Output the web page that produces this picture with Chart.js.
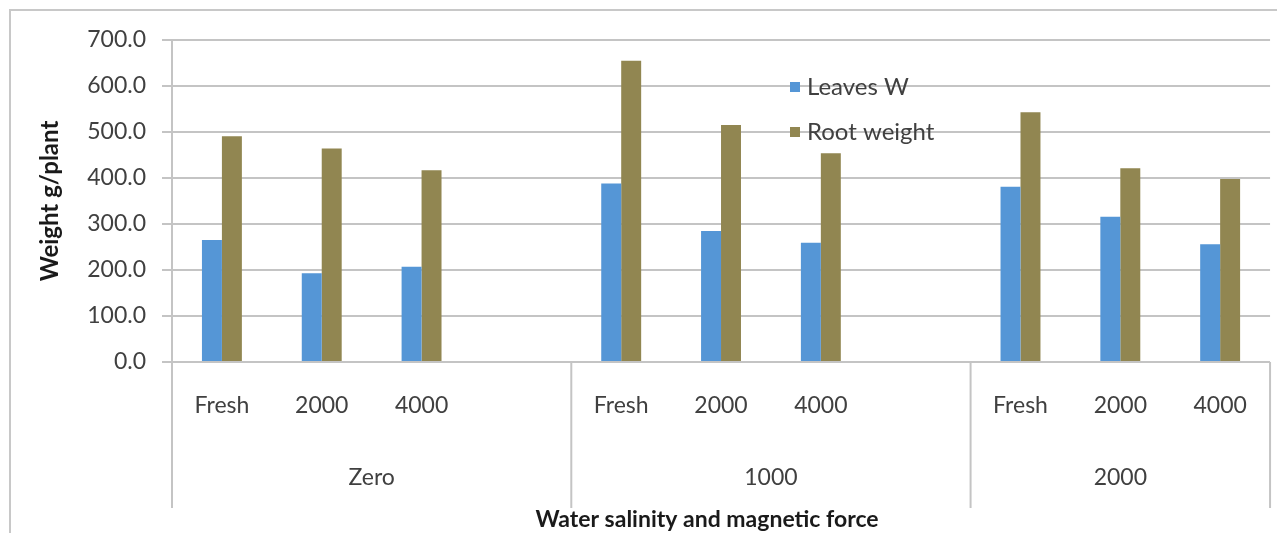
<!DOCTYPE html>
<html>
<head>
<meta charset="utf-8">
<title>Weight g/plant</title>
<script src="https://cdn.jsdelivr.net/npm/chart.js@4/dist/chart.umd.min.js"></script>
<style>
  html, body { margin: 0; padding: 0; background: #fff; }
  #wrap { width: 1277px; height: 533px; }
</style>
</head>
<body>
<div id="wrap"><canvas id="weightChart" width="1277" height="533"></canvas></div>
<script>
// inner level of the category axis (empty slot keeps the gap after a group)
const salinity = ['Fresh', '2000', '4000', '', 'Fresh', '2000', '4000', '', 'Fresh', '2000', '4000'];
// outer level: magnetic force groups and how many slots each one spans
const magnetic = ['Zero', '1000', '2000'];
const magneticSpan = [4, 4, 3];

const leavesW = [265, 193, 207, null, 388, 285, 259, null, 381, 316, 256];
const rootWeight = [491, 464, 417, null, 655, 515, 454, null, 543, 421, 398];

const yTicks = [0, 100, 200, 300, 400, 500, 600, 700];

const FONT = 'Lato, "Open Sans", sans-serif';
const GRID = '#c4c4c4';
const TEXT = '#404040';

// white background + frame line
const backdrop = {
  id: 'backdrop',
  beforeDraw(chart) {
    const { ctx, width, height } = chart;
    ctx.save();
    ctx.fillStyle = '#fff';
    ctx.fillRect(0, 0, width, height);
    ctx.strokeStyle = '#c8c8c8';
    ctx.lineWidth = 2;
    ctx.beginPath();
    ctx.moveTo(10, height);
    ctx.lineTo(10, 10);
    ctx.lineTo(width, 10);
    ctx.stroke();
    ctx.restore();
  }
};

// second row of the category axis: group dividers, group names, axis title
const groupAxis = {
  id: 'groupAxis',
  afterDraw(chart) {
    const { ctx } = chart;
    const x = chart.scales.x;
    const slot = x.width / salinity.length;
    const top = x.top;
    const bottom = 508;

    ctx.save();
    ctx.strokeStyle = GRID;
    ctx.lineWidth = 2;
    ctx.fillStyle = TEXT;
    ctx.font = '23px ' + FONT;
    ctx.textAlign = 'center';
    ctx.textBaseline = 'middle';

    let start = 0;
    magnetic.forEach((name, i) => {
      const left = x.getPixelForValue(start) - slot / 2;
      const right = x.getPixelForValue(start + magneticSpan[i] - 1) + slot / 2;
      ctx.beginPath();
      ctx.moveTo(left, top);
      ctx.lineTo(left, bottom);
      ctx.stroke();
      ctx.fillText(name, (left + right) / 2, 478);
      start += magneticSpan[i];
    });
    const end = x.right;
    ctx.beginPath();
    ctx.moveTo(end, top);
    ctx.lineTo(end, bottom);
    ctx.stroke();

    ctx.fillStyle = '#1a1a1a';
    ctx.font = 'bold 23px ' + FONT;
    ctx.fillText('Water salinity and magnetic force', 707, 520);
    ctx.restore();
  }
};

// legend sitting inside the plot area
const innerLegend = {
  id: 'innerLegend',
  afterDatasetsDraw(chart) {
    const { ctx } = chart;
    const rows = [87, 132];
    ctx.save();
    ctx.font = '24px ' + FONT;
    ctx.textBaseline = 'middle';
    ctx.textAlign = 'left';
    chart.data.datasets.forEach((ds, i) => {
      ctx.fillStyle = ds.backgroundColor;
      ctx.fillRect(790, rows[i] - 5, 10, 10);
      ctx.fillStyle = TEXT;
      ctx.fillText(ds.label, 807, rows[i]);
    });
    ctx.restore();
  }
};

new Chart(document.getElementById('weightChart'), {
  type: 'bar',
  data: {
    labels: salinity,
    datasets: [
      { label: 'Leaves W', data: leavesW, backgroundColor: '#5596d6' },
      { label: 'Root weight', data: rootWeight, backgroundColor: '#918651' },
    ],
  },
  options: {
    responsive: false,
    animation: false,
    events: [],
    layout: { padding: { left: 0, right: 4, top: 40, bottom: 0 } },
    datasets: {
      bar: { categoryPercentage: 0.4, barPercentage: 1.0 },
    },
    plugins: {
      legend: { display: false },
      tooltip: { enabled: false },
    },
    scales: {
      x: {
        grid: { display: false, drawTicks: false },
        border: { display: false },
        ticks: {
          color: TEXT,
          font: { family: FONT, size: 23 },
          padding: 30,
          maxRotation: 0,
          autoSkip: false,
        },
        afterFit(scale) { scale.height = 171; },
      },
      y: {
        min: 0,
        max: 700,
        afterBuildTicks(scale) { scale.ticks = yTicks.map(v => ({ value: v })); },
        grid: { color: GRID, lineWidth: 2, tickLength: 10 },
        border: { display: true, color: GRID, width: 2 },
        ticks: {
          color: TEXT,
          font: { family: FONT, size: 23 },
          padding: 16,
          callback: v => v.toFixed(1),
        },
        title: {
          display: true,
          text: 'Weight g/plant',
          color: '#1a1a1a',
          font: { family: FONT, size: 24, weight: 'bold' },
          padding: { top: 36 },
        },
        afterFit(scale) { scale.width = 172; },
      },
    },
  },
  plugins: [backdrop, groupAxis, innerLegend],
});
</script>
</body>
</html>
